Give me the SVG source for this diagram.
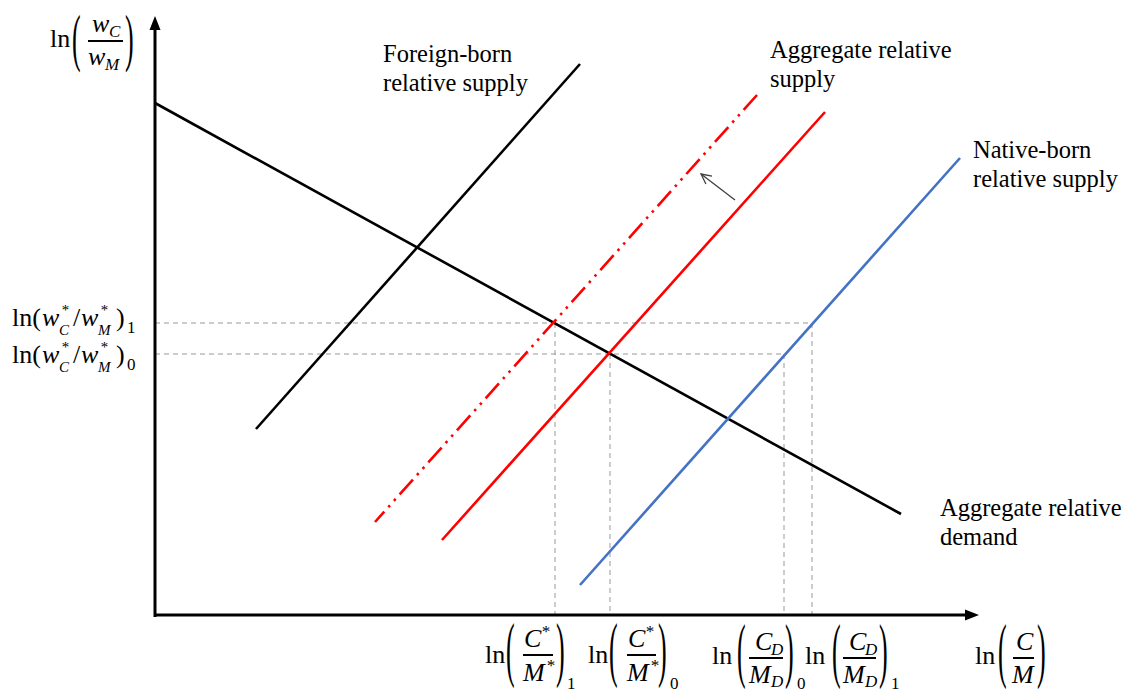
<svg xmlns="http://www.w3.org/2000/svg" width="1124" height="693" viewBox="0 0 1124 693">
<style>
text{font-family:"Liberation Serif","Times New Roman",serif;fill:#000}
.lbl{font-size:24.5px}
.m{font-size:26px}
.i{font-style:italic}
.s{font-size:17px}
.t{font-size:15px}
.grid{stroke:#999;stroke-width:1;stroke-dasharray:5 4;fill:none}
.ax{stroke:#000;stroke-width:3;fill:none}
.curve{stroke-width:2.6;fill:none;stroke-linecap:butt}
</style>
<defs>
<marker id="open" viewBox="0 0 12 12" refX="11" refY="6" markerWidth="12" markerHeight="12" markerUnits="userSpaceOnUse" orient="auto">
<path d="M1,1 L11,6 L1,11" fill="none" stroke="#404040" stroke-width="1.3"/>
</marker>
</defs>
<rect width="1124" height="693" fill="#fff"/>

<g id="grid">
<line class="grid" x1="155" y1="323" x2="812" y2="323"/>
<line class="grid" x1="155" y1="354" x2="784" y2="354"/>
<line class="grid" x1="555" y1="323" x2="555" y2="615"/>
<line class="grid" x1="610" y1="354" x2="610" y2="615"/>
<line class="grid" x1="784" y1="354" x2="784" y2="615"/>
<line class="grid" x1="812" y1="323" x2="812" y2="615"/>
</g>

<g id="axes">
<line class="ax" x1="155" y1="617" x2="155" y2="28"/>
<polygon points="155,16 149.5,30 160.5,30" fill="#000"/>
<line class="ax" x1="154" y1="615" x2="966" y2="615"/>
<polygon points="979,615 965,609.5 965,620.5" fill="#000"/>
</g>

<g id="connectors">
<line id="demand" class="curve" stroke="#000" x1="155" y1="103" x2="901" y2="514"/>
<line id="foreign-supply" class="curve" stroke="#000" x1="256" y1="429" x2="580" y2="64"/>
<line id="aggregate-supply-new" class="curve" stroke="#FF0000" stroke-dasharray="20 6 2.5 6 2.5 6" x1="757" y1="95" x2="375" y2="522"/>
<line id="aggregate-supply" class="curve" stroke="#FF0000" x1="442" y1="540" x2="825" y2="112"/>
<line id="native-supply" class="curve" stroke="#4472C4" x1="580" y1="585" x2="960" y2="158"/>
<line id="shift-arrow" stroke="#404040" stroke-width="1.3" x1="735" y1="200" x2="701" y2="174" marker-end="url(#open)"/>
</g>

<g id="label-foreign">
<text class="lbl" x="383" y="62">Foreign-born</text>
<text class="lbl" x="383" y="91">relative supply</text>
</g>
<g id="label-aggregate-supply">
<text class="lbl" x="770" y="58">Aggregate relative</text>
<text class="lbl" x="770" y="87">supply</text>
</g>
<g id="label-native">
<text class="lbl" x="973" y="158">Native-born</text>
<text class="lbl" x="973" y="187">relative supply</text>
</g>
<g id="label-demand">
<text class="lbl" x="940" y="516">Aggregate relative</text>
<text class="lbl" x="940" y="545">demand</text>
</g>

<g id="y-axis-label">
<text class="m" x="50" y="47">ln</text>
<text class="m" transform="translate(72,58.5) scale(1,2.45)">(</text>
<text class="m i" x="92" y="32">w</text>
<text class="s i" x="109" y="37">C</text>
<line x1="88" y1="41" x2="123" y2="41" stroke="#000" stroke-width="2"/>
<text class="m i" x="88" y="65">w</text>
<text class="s i" x="105" y="70">M</text>
<text class="m" transform="translate(125,58.5) scale(1,2.45)">)</text>
</g>

<g id="y-label-1">
<text class="m" x="12" y="326">ln(</text>
<text class="m i" x="42" y="326">w</text>
<text class="t i" x="61" y="315">*</text>
<text class="t i" x="59" y="335">C</text>
<text class="m" x="73" y="326">/</text>
<text class="m i" x="81" y="326">w</text>
<text class="t i" x="100" y="315">*</text>
<text class="t i" x="98" y="335">M</text>
<text class="m" x="116" y="326">)</text>
<text class="s" x="127" y="333">1</text>
</g>
<g id="y-label-0">
<text class="m" x="12" y="363">ln(</text>
<text class="m i" x="42" y="363">w</text>
<text class="t i" x="61" y="352">*</text>
<text class="t i" x="59" y="372">C</text>
<text class="m" x="73" y="363">/</text>
<text class="m i" x="81" y="363">w</text>
<text class="t i" x="100" y="352">*</text>
<text class="t i" x="98" y="372">M</text>
<text class="m" x="116" y="363">)</text>
<text class="s" x="127" y="370">0</text>
</g>

<g id="x-label-cstar-1">
<text class="m" x="485" y="663">ln</text>
<text class="m" transform="translate(506,672.5) scale(1,2.75)">(</text>
<text class="m i" x="524" y="647">C</text>
<text class="s i" x="541" y="637">*</text>
<line x1="523" y1="655" x2="553" y2="655" stroke="#000" stroke-width="2"/>
<text class="m i" x="523" y="681">M</text>
<text class="s i" x="546" y="671">*</text>
<text class="m" transform="translate(556,672.5) scale(1,2.75)">)</text>
<text class="s" x="567" y="689">1</text>
</g>
<g id="x-label-cstar-0">
<text class="m" x="588" y="663">ln</text>
<text class="m" transform="translate(609,672.5) scale(1,2.75)">(</text>
<text class="m i" x="628" y="647">C</text>
<text class="s i" x="645" y="637">*</text>
<line x1="627" y1="655" x2="656" y2="655" stroke="#000" stroke-width="2"/>
<text class="m i" x="627" y="681">M</text>
<text class="s i" x="650" y="671">*</text>
<text class="m" transform="translate(658,672.5) scale(1,2.75)">)</text>
<text class="s" x="670" y="689">0</text>
</g>
<g id="x-label-cd-0">
<text class="m" x="712" y="664">ln</text>
<text class="m" transform="translate(737,673.5) scale(1,2.75)">(</text>
<text class="m i" x="755" y="650">C</text>
<text class="s i" x="771" y="655">D</text>
<line x1="749" y1="658" x2="783" y2="658" stroke="#000" stroke-width="2"/>
<text class="m i" x="749" y="683">M</text>
<text class="s i" x="771" y="687">D</text>
<text class="m" transform="translate(785,673.5) scale(1,2.75)">)</text>
<text class="s" x="797" y="689">0</text>
</g>
<g id="x-label-cd-1">
<text class="m" x="805" y="664">ln</text>
<text class="m" transform="translate(832,673.5) scale(1,2.75)">(</text>
<text class="m i" x="849" y="650">C</text>
<text class="s i" x="865" y="655">D</text>
<line x1="843" y1="658" x2="876" y2="658" stroke="#000" stroke-width="2"/>
<text class="m i" x="843" y="683">M</text>
<text class="s i" x="865" y="687">D</text>
<text class="m" transform="translate(879,673.5) scale(1,2.75)">)</text>
<text class="s" x="891" y="689">1</text>
</g>
<g id="x-axis-label">
<text class="m" x="975" y="664">ln</text>
<text class="m" transform="translate(998,673.5) scale(1,2.75)">(</text>
<text class="m i" x="1016" y="650">C</text>
<line x1="1013" y1="658" x2="1034" y2="658" stroke="#000" stroke-width="2"/>
<text class="m i" x="1012" y="683">M</text>
<text class="m" transform="translate(1037,673.5) scale(1,2.75)">)</text>
</g>
</svg>
